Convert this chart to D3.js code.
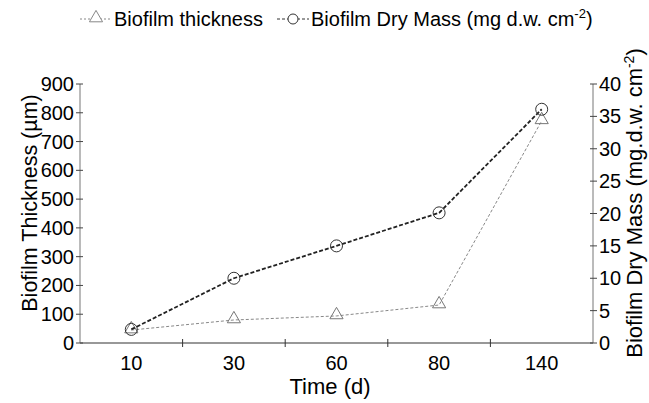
<!DOCTYPE html>
<html>
<head>
<meta charset="utf-8">
<script src="https://cdn.jsdelivr.net/npm/d3@7"></script>
<style>
    body { margin: 0; background: #fff; }
    svg { font-family: "Liberation Sans", Arial, sans-serif; }
</style>
</head>
<body>
<div id="chart"></div>
<script>
    var days = ["10", "30", "60", "80", "140"];
    var thickness = [45, 80, 94, 132, 772];
    var dryMass = [2.1, 10, 15, 20.1, 36.1];
    var leftTicks = [0, 100, 200, 300, 400, 500, 600, 700, 800, 900];
    var rightTicks = [0, 5, 10, 15, 20, 25, 30, 35, 40];

    var width = 649, height = 403;
    var margin = {left: 80, right: 56, top: 84, bottom: 60};

    var svg = d3.select("#chart").append("svg")
        .attr("width", width)
        .attr("height", height);

    var x = d3.scaleBand().domain(days).range([margin.left, width - margin.right]);
    var yL = d3.scaleLinear().domain([0, 900]).range([height - margin.bottom, margin.top]);
    var yR = d3.scaleLinear().domain([0, 40]).range([height - margin.bottom, margin.top]);
    var cx = function(d) { return x(d) + x.bandwidth() / 2; };
    var base = height - margin.bottom;

    // bottom axis, ticks sit between the categories
    var gx = svg.append("g").attr("transform", "translate(0," + base + ")");
    gx.append("line").attr("x1", margin.left).attr("x2", width - margin.right)
        .attr("stroke", "#333").attr("stroke-width", 1.2);
    gx.selectAll(".tk").data(days.slice(1)).enter().append("line")
        .attr("x1", function(d) { return x(d); }).attr("x2", function(d) { return x(d); })
        .attr("y1", -4).attr("y2", 4).attr("stroke", "#333");
    gx.selectAll(".lb").data(days).enter().append("text")
        .attr("x", cx).attr("y", 27)
        .attr("text-anchor", "middle").attr("font-size", 20).text(function(d) { return d; });

    // left axis
    var gl = svg.append("g").attr("transform", "translate(" + margin.left + ",0)");
    gl.append("line").attr("y1", yL(0)).attr("y2", yL(900)).attr("stroke", "#777");
    gl.selectAll(".tk").data(leftTicks).enter().append("line")
        .attr("x1", -4).attr("x2", 3)
        .attr("y1", function(d) { return yL(d); }).attr("y2", function(d) { return yL(d); })
        .attr("stroke", "#444");
    gl.selectAll(".lb").data(leftTicks).enter().append("text")
        .attr("x", -6).attr("y", function(d) { return yL(d) + 7; })
        .attr("text-anchor", "end").attr("font-size", 20).text(function(d) { return d; });

    // right axis
    var gr = svg.append("g").attr("transform", "translate(" + (width - margin.right) + ",0)");
    gr.append("line").attr("y1", yR(0)).attr("y2", yR(40)).attr("stroke", "#777");
    gr.selectAll(".tk").data(rightTicks).enter().append("line")
        .attr("x1", -3).attr("x2", 4)
        .attr("y1", function(d) { return yR(d); }).attr("y2", function(d) { return yR(d); })
        .attr("stroke", "#444");
    gr.selectAll(".lb").data(rightTicks).enter().append("text")
        .attr("x", 6).attr("y", function(d) { return yR(d) + 7; })
        .attr("font-size", 20).text(function(d) { return d; });

    // axis titles
    svg.append("text").attr("x", 330).attr("y", 394)
        .attr("text-anchor", "middle").attr("font-size", 22).text("Time (d)");
    svg.append("text")
        .attr("transform", "translate(37,203) rotate(-90)")
        .attr("text-anchor", "middle").attr("font-size", 21.5).text("Biofilm Thickness (\u00b5m)");
    var rt = svg.append("text")
        .attr("transform", "translate(642,203) rotate(-90)")
        .attr("text-anchor", "middle").attr("font-size", 22);
    rt.append("tspan").text("Biofilm Dry Mass (mg.d.w. cm");
    rt.append("tspan").attr("font-size", 14).attr("dy", -8).text("-2");
    rt.append("tspan").attr("dy", 8).text(")");

    // series
    var lineL = d3.line().x(function(d, i) { return cx(days[i]); }).y(function(d) { return yL(d); });
    var lineR = d3.line().x(function(d, i) { return cx(days[i]); }).y(function(d) { return yR(d); });
    var tri = d3.symbol().type(d3.symbolTriangle).size(75);

    svg.append("path").attr("d", lineL(thickness)).attr("fill", "none")
        .attr("stroke", "#888").attr("stroke-width", 1).attr("stroke-dasharray", "3,2");
    svg.selectAll(".tri").data(thickness).enter().append("path")
        .attr("d", tri)
        .attr("transform", function(d, i) { return "translate(" + cx(days[i]) + "," + (yL(d) - 1) + ")"; })
        .attr("fill", "none").attr("stroke", "#777").attr("stroke-width", 1);

    svg.append("path").attr("d", lineR(dryMass)).attr("fill", "none")
        .attr("stroke", "#222").attr("stroke-width", 1.8).attr("stroke-dasharray", "4,2");
    svg.selectAll(".circ").data(dryMass).enter().append("circle")
        .attr("cx", function(d, i) { return cx(days[i]); }).attr("cy", function(d) { return yR(d); })
        .attr("r", 6).attr("fill", "none").attr("stroke", "#333").attr("stroke-width", 1);

    // legend
    var lg = svg.append("g").attr("transform", "translate(0,19)");
    lg.append("line").attr("x1", 80).attr("x2", 112).attr("stroke", "#888").attr("stroke-dasharray", "2,2");
    lg.append("path").attr("d", tri).attr("transform", "translate(96,-1)")
        .attr("fill", "#fff").attr("stroke", "#888");
    lg.append("text").attr("x", 114).attr("y", 7).attr("font-size", 20).text("Biofilm thickness");
    lg.append("line").attr("x1", 277).attr("x2", 309).attr("stroke", "#333").attr("stroke-dasharray", "3,2");
    lg.append("circle").attr("cx", 293).attr("cy", 0).attr("r", 5).attr("fill", "#fff").attr("stroke", "#333");
    var lt = lg.append("text").attr("x", 311).attr("y", 7).attr("font-size", 20);
    lt.append("tspan").text("Biofilm Dry Mass (mg d.w. cm");
    lt.append("tspan").attr("font-size", 13).attr("dy", -8).text("-2");
    lt.append("tspan").attr("dy", 8).text(")");
</script>
</body>
</html>
